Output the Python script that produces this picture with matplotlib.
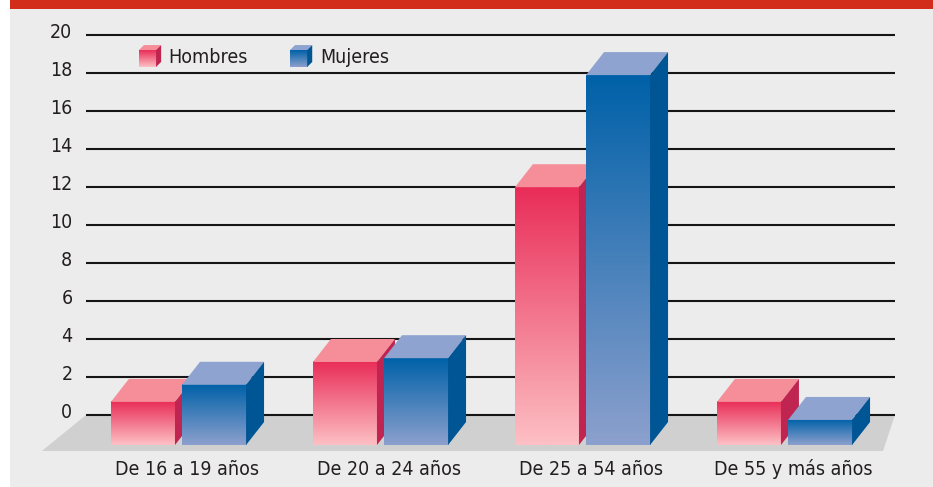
import numpy as np
import matplotlib.pyplot as plt
from matplotlib.patches import Polygon, Rectangle
from matplotlib.colors import to_rgb
from matplotlib import font_manager

categories = ["De 16 a 19 años", "De 20 a 24 años", "De 25 a 54 años", "De 55 y más años"]
hombres = [1.9, 4.0, 13.2, 1.9]
mujeres = [2.8, 4.2, 19.1, 0.95]
yticks = list(range(0, 21, 2))
series = ["Hombres", "Mujeres"]

names = {f.name for f in font_manager.fontManager.ttflist}
if 'Liberation Sans Narrow' in names:
    FONT = ['Liberation Sans Narrow', 'DejaVu Sans']
else:
    FONT = ['DejaVu Sans']
    plt.rcParams['font.stretch'] = 'condensed'
plt.rcParams['font.family'] = FONT

# colours: front gradient top, front gradient bottom, top face, side face
RED = ("#e92d58", "#fdc0c4", "#f58e98", "#bf2550")
BLUE = ("#0061a8", "#8ca0cd", "#8fa3d0", "#005594")

# geometry (x in group units, y in value units)
W = 0.317          # bar width
GAP = 0.035        # gap between the two bars of a group
DX, DY = 0.089, 1.21   # depth offset
BASE = -1.58       # front base of the bars
FLOOR = -1.89


def gradient(c1, c2, n=128):
    a, b = np.array(to_rgb(c1)), np.array(to_rgb(c2))
    t = np.linspace(0, 1, n)[:, None]
    return (a + (b - a) * t)[:, None, :]


def bar3d(ax, x0, w, base, top, cols, dx=DX, dy=DY, z=3):
    ax.imshow(gradient(cols[0], cols[1]), extent=(x0, x0 + w, base, top),
              aspect='auto', origin='upper', zorder=z, interpolation='bilinear')
    ax.add_patch(Polygon([(x0, top), (x0 + w, top), (x0 + w + dx, top + dy),
                          (x0 + dx, top + dy)], closed=True, fc=cols[2], ec='none', zorder=z))
    ax.add_patch(Polygon([(x0 + w, base), (x0 + w + dx, base + dy),
                          (x0 + w + dx, top + dy), (x0 + w, top)],
                         closed=True, fc=cols[3], ec='none', zorder=z))


fig = plt.figure(figsize=(9.33, 4.87), dpi=100)
fig.patch.set_facecolor("white")
ax = fig.add_axes([0, 0, 1, 1])
ax.axis("off")

# panel background and red header strip
ax.add_patch(Rectangle((10 / 933, 0), 1, 1, transform=ax.transAxes, fc="#ececec", ec='none', zorder=0))
ax.add_patch(Rectangle((10 / 933, 478 / 487), 1, 1, transform=ax.transAxes, fc="#d22d1b", ec='none', zorder=0))

# floor
gl, gr = -0.458, 3.547
ax.add_patch(Polygon([(gl, 0), (gr, 0), (3.488, FLOOR), (-0.676, FLOOR)],
                     closed=True, fc="#d0d0d0", ec='none', zorder=1))

# gridlines and tick labels
for v in yticks:
    ax.plot([gl, gr], [v, v], color="#151515", lw=1.5, zorder=2, solid_capstyle='butt')
    ax.text(-0.525, v + 0.15, str(v), ha='right', va='center', fontsize=14, color="#231f20")

# bars
for i, cat in enumerate(categories):
    xl = i - W - GAP / 2
    bar3d(ax, xl, W, BASE, hombres[i] - DY, RED)
    bar3d(ax, i + GAP / 2, W, BASE, mujeres[i] - DY, BLUE)
    ax.text(i + DX / 2, -2.85, cat, ha='center', va='center', fontsize=14, color="#231f20")

# legend
for (lx, tx), name, cols in zip([(-0.196, -0.052), (0.552, 0.7)], series, [RED, BLUE]):
    bar3d(ax, lx, 0.085, 18.32, 19.21, cols, dx=0.025, dy=0.26, z=4)
    ax.text(tx, 18.84, name, ha='left', va='center', fontsize=14, color="#231f20")

ax.set_xlim(-178.5 / 202, (933 - 178.5) / 202)
ax.set_ylim((415 - 487) / 19, 415 / 19)

fig.savefig("out.png", dpi=100)
